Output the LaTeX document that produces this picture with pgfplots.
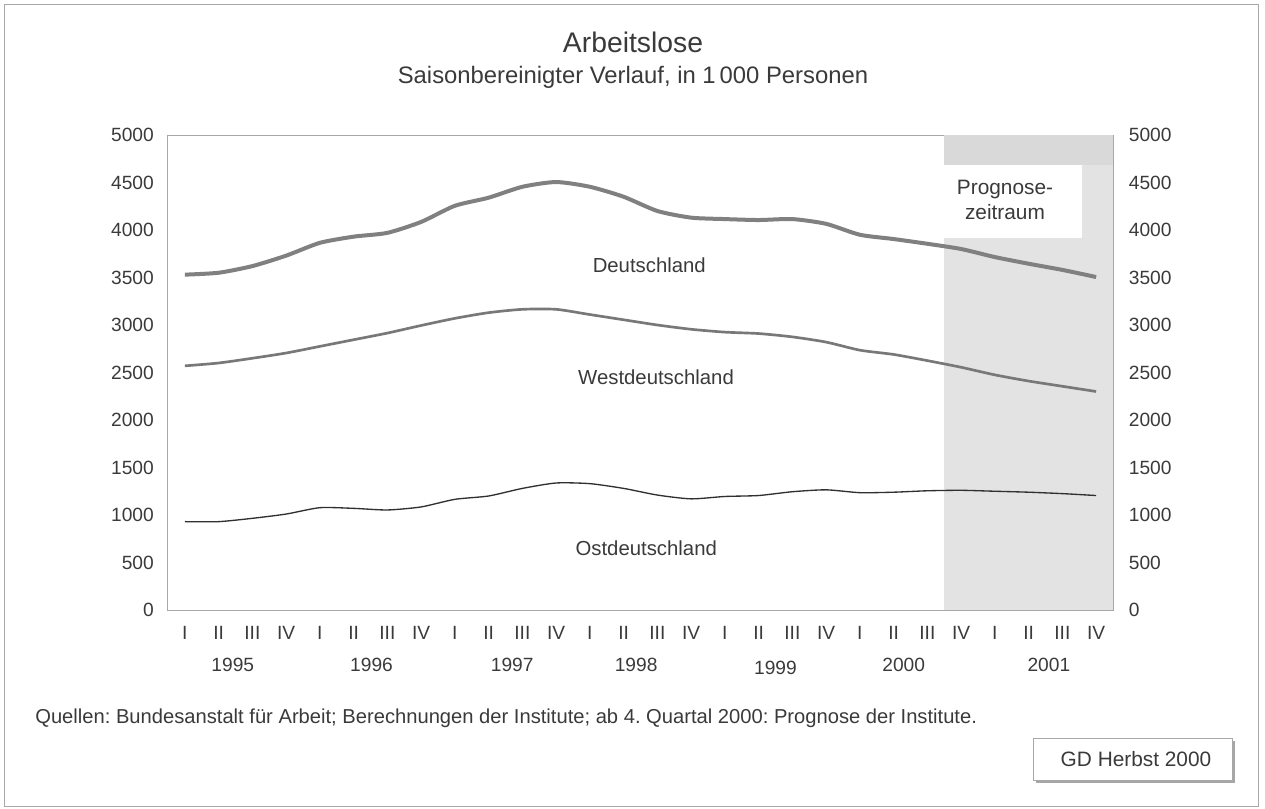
\documentclass[border=0pt]{standalone}
\usepackage{fontspec}
\setmainfont{Liberation Sans}
\usepackage{pgfplots}
\usepackage{pgfplotstable}
\pgfplotsset{compat=1.18}
\frenchspacing
\definecolor{txt}{HTML}{3A3A3A}
\definecolor{frame}{HTML}{A8A8A8}
\definecolor{deline}{HTML}{808080}
\definecolor{weline}{HTML}{787878}
\definecolor{osline}{HTML}{303030}
\pgfplotstableread{
i de west ost
0 3530 2570 930
1 3550 2600 930
2 3620 2650 965
3 3730 2705 1010
4 3865 2775 1077
5 3930 2845 1070
6 3970 2915 1053
7 4085 2995 1085
8 4255 3070 1165
9 4340 3130 1200
10 4455 3165 1280
11 4505 3165 1337
12 4455 3110 1330
13 4350 3055 1280
14 4200 3000 1210
15 4130 2955 1170
16 4115 2925 1195
17 4105 2910 1205
18 4115 2875 1245
19 4065 2820 1265
20 3950 2735 1235
21 3905 2690 1240
22 3855 2625 1255
23 3800 2555 1260
24 3715 2475 1250
25 3645 2410 1240
26 3580 2355 1225
27 3505 2300 1205
}\data
\begin{document}
\begin{tikzpicture}[font=\fontsize{11.5}{13}\selectfont, text=txt]
\begin{scope}[x=0.6pt,y=-0.6pt,shift={(-168,-610)}]
  \path (0,0) rectangle (1265,809);
  \draw[frame, line width=0.6pt] (5,5) rectangle (1258,806);
  \node[font=\fontsize{17}{19}\selectfont] at (633,42) {Arbeitslose};
  \node[font=\fontsize{14.3}{16}\selectfont] at (633,77) {Saisonbereinigter Verlauf, in 1\,000 Personen};
  \node[anchor=west, inner sep=0pt, font=\fontsize{12.1}{14}\selectfont] at (35,718) {Quellen: Bundesanstalt für Arbeit; Berechnungen der Institute; ab 4. Quartal 2000: Prognose der Institute.};
  \fill[gray!70] (1036,741) rectangle (1235,783);
  \draw[frame, fill=white, line width=0.6pt] (1033,738) rectangle (1232,780);
  \node[font=\fontsize{12.5}{14}\selectfont] at (1136,759) {GD Herbst 2000};
\end{scope}
\begin{axis}[
  at={(0,0)}, anchor=south west, scale only axis,
  width=567pt, height=285pt,
  xmin=-0.5, xmax=27.5, ymin=0, ymax=5000,
  xtick={0,...,27},
  xticklabels={I,II,III,IV,I,II,III,IV,I,II,III,IV,I,II,III,IV,I,II,III,IV,I,II,III,IV,I,II,III,IV},
  ytick={0,500,...,5000},
  axis line style={frame, line width=0.6pt},
  tick style={draw=none},
  /pgf/number format/assume math mode=true,
  /pgf/number format/1000 sep={},
  scaled y ticks=false,
  yticklabel style={xshift=-5pt, text=txt},
  xticklabel style={yshift=-6pt, text=txt},
  clip=false,
]
  \fill[gray!22] (axis cs:22.5,0) rectangle (axis cs:27.5,5000);
  \fill[gray!30] (axis cs:22.5,4685) rectangle (axis cs:27.5,5000);
  \fill[white] (axis cs:22.5,3917) rectangle (axis cs:26.57,4685);
  \node[align=center, font=\fontsize{12.5}{15}\selectfont] at (axis cs:24.3,4317) {Prognose-\\zeitraum};
  \addplot[deline, line width=2.4pt, smooth, tension=0.4] table[x=i, y=de] {\data};
  \addplot[weline, line width=1.6pt, smooth, tension=0.4] table[x=i, y=west] {\data};
  \addplot[osline, line width=0.8pt, smooth, tension=0.4] table[x=i, y=ost] {\data};
  \node[font=\fontsize{12.2}{14}\selectfont] at (axis cs:13.76,3633) {Deutschland};
  \node[font=\fontsize{12.2}{14}\selectfont] at (axis cs:13.96,2453) {Westdeutschland};
  \node[font=\fontsize{12.2}{14}\selectfont] at (axis cs:13.67,653) {Ostdeutschland};
  \node[yshift=-33pt] at (axis cs:1.42,0) {1995};
  \node[yshift=-33pt] at (axis cs:5.53,0) {1996};
  \node[yshift=-33pt] at (axis cs:9.7,0) {1997};
  \node[yshift=-33pt] at (axis cs:13.37,0) {1998};
  \node[yshift=-34.5pt] at (axis cs:17.5,0) {1999};
  \node[yshift=-33pt] at (axis cs:21.3,0) {2000};
  \node[yshift=-33pt] at (axis cs:25.6,0) {2001};
\end{axis}
\begin{axis}[
  at={(0,0)}, anchor=south west, scale only axis,
  width=567pt, height=285pt,
  xmin=-0.5, xmax=27.5, ymin=0, ymax=5000,
  hide x axis, axis y line*=right,
  ytick={0,500,...,5000},
  axis line style={frame, line width=0.6pt},
  tick style={draw=none},
  /pgf/number format/assume math mode=true,
  /pgf/number format/1000 sep={},
  scaled y ticks=false,
  yticklabel style={xshift=6pt, text=txt},
]
\end{axis}
\end{tikzpicture}
\end{document}
